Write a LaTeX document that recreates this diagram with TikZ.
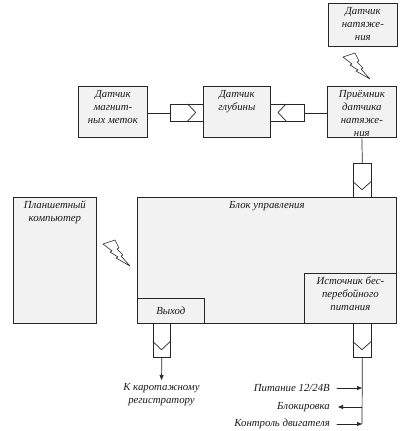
\documentclass[tikz,border=0pt]{standalone}
\usepackage{fontspec}
\setmainfont{Liberation Serif}
\usetikzlibrary{arrows.meta,positioning}

\begin{document}
\begin{tikzpicture}[x=1pt,y=-1pt,line cap=round,
  box/.style={draw=black!85,fill=black!5,line width=0.7pt,anchor=north west,inner sep=0pt},
  plug/.style={draw=black!85,fill=white,line width=0.7pt,anchor=north west,inner sep=0pt},
  txt/.style={font=\fontsize{10.8}{13}\selectfont\itshape,align=center,inner sep=0pt,text=black!90},
  wire/.style={draw=black!85,line width=0.7pt},
  arr/.style={wire,-{Triangle[length=5pt,width=4pt]}},
  bolt/.pic={\draw[black!85,line width=0.6pt,fill=white,line join=round] (0,4) -- (12,0) -- (16,8) -- (14,9) -- (20,15) -- (18,16) -- (27,26) -- (13,18) -- (15,17) -- (7,12) -- (9,11) -- cycle;}]
  \useasboundingbox (0,0) rectangle (406,431);
  \node[box,minimum width=69,minimum height=43] (tens) at (328,3) {};
  \node[box,minimum width=69,minimum height=51] (magn) at (78,86) {};
  \node[box,minimum width=67,minimum height=51] (glub) at (203,86) {};
  \node[box,minimum width=69,minimum height=51] (prm) at (327,86) {};
  \node[plug,minimum width=33,minimum height=17] (plugA) at (170,104) {};
  \node[plug,minimum width=34,minimum height=17] (plugB) at (270,104) {};
  \node[box,minimum width=259,minimum height=126] (blok) at (137,197) {};
  \node[box,minimum width=83,minimum height=126] (pk) at (13,197) {};
  \node[box,minimum width=67,minimum height=25] (vyh) at (137,298) {};
  \node[box,minimum width=92,minimum height=50] (ibp) at (304,273) {};
  \node[plug,minimum width=18,minimum height=34] (plugC) at (353,163) {};
  \node[plug,minimum width=17,minimum height=34] (plugD) at (153,323) {};
  \node[plug,minimum width=18,minimum height=34] (plugE) at (353,323) {};
  \coordinate (kar) at (161.5,380);
  \coordinate (bus) at (362,424);

  \draw[wire] (plugA.north east) ++(-16,0) -- ++(8,8.5) -- ++(-8,8.5);
  \draw[wire] (plugB.north west) ++(16,0) -- ++(-8,8.5) -- ++(8,8.5);
  \draw[wire] (plugC.south west) ++(0,-16) -- ++(9,8) -- ++(9,-8);
  \draw[wire] (plugD.south west) ++(0,-16) -- ++(8.5,8) -- ++(8.5,-8);
  \draw[wire] (plugE.south west) ++(0,-16) -- ++(9,8) -- ++(9,-8);

  \draw[wire] (plugA.west -| magn.east) -- (plugA.west);
  \draw[wire] (plugB.east) -- (plugB.east -| prm.west);
  \draw[wire] (prm.south) -- (plugC.north);
  \draw[arr] (plugD.south) -- (kar);
  \draw[wire] (plugE.south) -- (bus);

  \pic at (343,53) {bolt};
  \pic at (103,240) {bolt};

  \node[txt,below=4pt of tens.north] (tenst) {Датчик\\натяже-\\ния};
  \node[txt,below=4pt of magn.north] (magnt) {Датчик\\магнит-\\ных меток};
  \node[txt,below=4pt of glub.north] (glubt) {Датчик\\глубины};
  \begin{scope}
    \clip (327,86) rectangle (396,135);
    \node[txt,below=4pt of prm.north] (prmt) {Приёмник\\датчика\\натяже-\\ния};
  \end{scope}
  \node[txt,below=4pt of blok.north] (blokt) {Блок управления};
  \node[txt,below=4pt of pk.north] (pkt) {Планшетный\\компьютер};
  \node[txt] (vyht) at (vyh) {Выход};
  \node[txt,below=4pt of ibp.north] (ibpt) {Источник бес-\\перебойного\\питания};
  \node[txt,below=3pt of kar] (kart) {К каротажному\\регистратору};

  \node[txt,anchor=east] (pit) at (330,388) {Питание 12/24В};
  \node[txt,anchor=east] (blk) at (330,407) {Блокировка};
  \node[txt,anchor=east] (kdv) at (330,424) {Контроль двигателя};
  \draw[arr] ([xshift=7pt]pit.east) -- (pit.east -| bus);
  \draw[arr] (blk.east -| bus) -- ([xshift=8pt]blk.east);
  \draw[arr] ([xshift=7pt]kdv.east) -- (kdv.east -| bus);
\end{tikzpicture}
\end{document}
